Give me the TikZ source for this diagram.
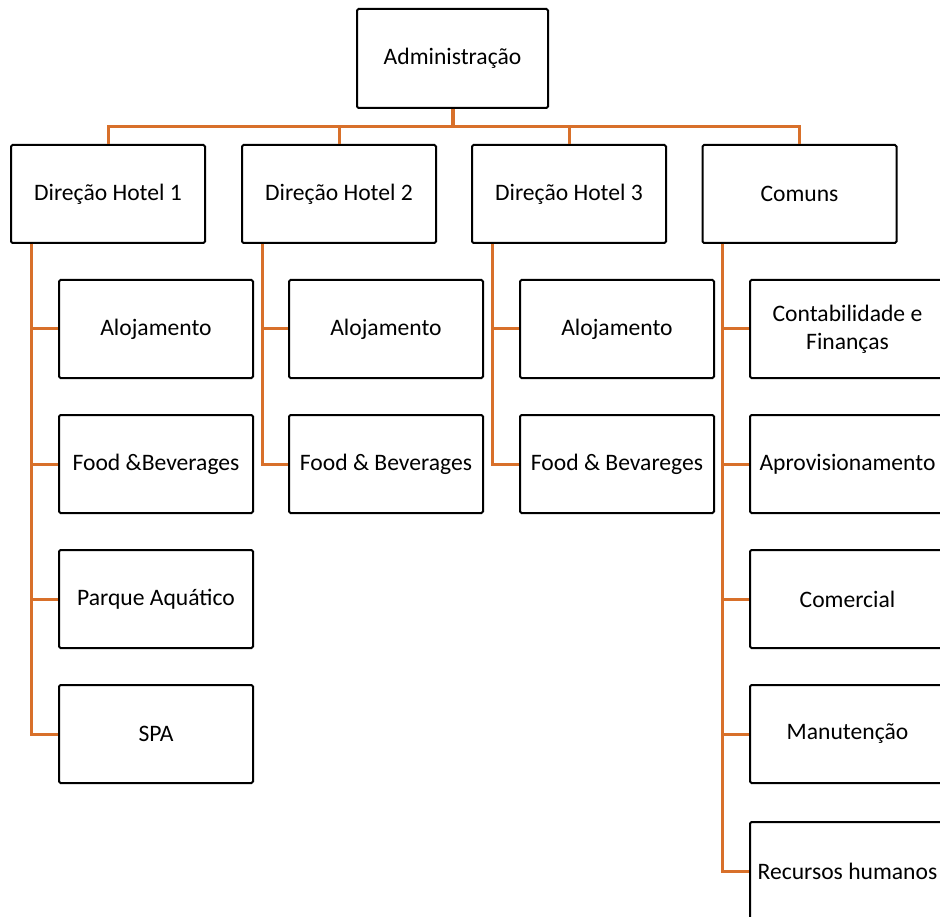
\documentclass[tikz,border=0pt]{standalone}
\usepackage{fontspec}
\setmainfont{Carlito}
\usepackage{tikz}
\usetikzlibrary{positioning}
\definecolor{orgline}{RGB}{216,112,42}

\begin{document}
\begin{tikzpicture}[
  x=1pt, y=-1pt,
  unit/.style={draw=black, line width=2pt, rounded corners=1.5pt, minimum width=194pt, minimum height=98pt, align=center, inner sep=2pt, font=\fontsize{23.6}{28}\selectfont},
  link/.style={draw=orgline, line width=3pt}
]
\useasboundingbox (0,0) rectangle (940,917);
\clip (0,0) rectangle (940,917);

% Topo
\node[unit, minimum width=191pt, minimum height=99pt] (adm) at (452.5,58.5) {Administração};

% Direções
\node[unit] (hot1) at (108,194) {Direção Hotel 1};
\node[unit] (hot2) at (339,194) {Direção Hotel 2};
\node[unit] (hot3) at (569,194) {Direção Hotel 3};
\node[unit] (com) at (799.5,194) {Comuns};

% Hotel 1
\node[unit] (h1alo) at (156,329) {Alojamento};
\node[unit] (h1fb) at (156,464) {Food \&Beverages};
\node[unit] (h1pq) at (156,599) {Parque Aquático};
\node[unit] (h1spa) at (156,734) {SPA};

% Hotel 2
\node[unit] (h2alo) at (386,329) {Alojamento};
\node[unit] (h2fb) at (386,464) {Food \& Beverages};

% Hotel 3
\node[unit] (h3alo) at (617,329) {Alojamento};
\node[unit] (h3fb) at (617,464) {Food \& Bevareges};

% Comuns
\node[unit, minimum width=195pt] (cfin) at (847.5,329) {Contabilidade e\\Finanças};
\node[unit, minimum width=195pt] (capr) at (847.5,464) {Aprovisionamento};
\node[unit, minimum width=195pt] (ccom) at (847.5,599) {Comercial};
\node[unit, minimum width=195pt] (cman) at (847.5,734) {Manutenção};
\node[unit, minimum width=195pt] (crh) at (847.5,871) {Recursos humanos};

% Ligações do topo
\draw[link, line width=4pt] (adm.south) -- ++(0,18);
\foreach \d in {hot1,hot2,hot3,com}
  \draw[link] (adm.south) -- ++(0,18) -| (\d.north);

% Ligações das direções
\foreach \c in {h1alo,h1fb,h1pq,h1spa}
  \draw[link] ([xshift=21pt]hot1.south west) |- (\c.west);
\foreach \c in {h2alo,h2fb}
  \draw[link] ([xshift=21pt]hot2.south west) |- (\c.west);
\foreach \c in {h3alo,h3fb}
  \draw[link] ([xshift=21pt]hot3.south west) |- (\c.west);
\foreach \c in {cfin,capr,ccom,cman,crh}
  \draw[link] ([xshift=21pt]com.south west) |- (\c.west);

\end{tikzpicture}
\end{document}
